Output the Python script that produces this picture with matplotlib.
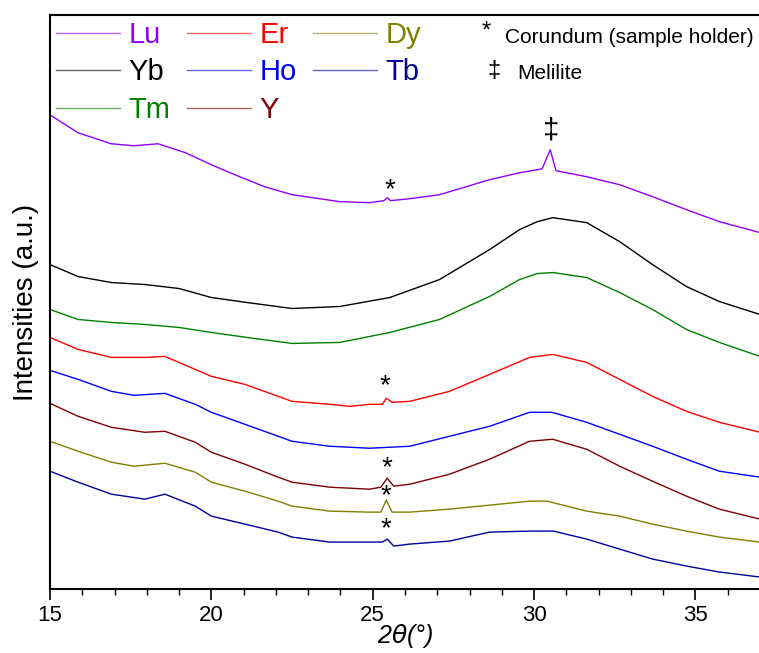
import matplotlib
matplotlib.use("Agg")
import matplotlib.pyplot as plt
from matplotlib.ticker import MultipleLocator

plt.rcParams['font.family'] = ['Liberation Sans', 'DejaVu Sans']

# 2theta positions and intensities (a.u., offset stacked)
x_lu = [15.0, 15.87, 16.9, 17.6, 18.35, 19.2, 20.0, 20.8, 21.65, 22.5, 23.98, 24.9, 25.35, 25.45, 25.55,
        26.15, 27.07, 28.62, 29.55, 30.1, 30.25, 30.5, 30.68, 31.63, 32.65, 33.67, 34.72, 35.74, 37.0]
y_lu = [485, 467, 456, 454, 456, 447, 435, 424, 413, 405, 398, 397, 399, 402, 399,
        401, 405, 420, 427, 430, 431, 450, 429, 423, 415, 403, 390, 378, 367]

x_yb = [15.0, 15.87, 16.9, 17.95, 19.0, 20.0, 21.1, 22.5, 23.98, 25.53, 27.07, 28.62, 29.55, 30.1,
        30.58, 31.63, 32.65, 33.67, 34.72, 35.74, 37.0]
y_yb = [335, 323, 317, 315, 311, 302, 297, 291, 293, 302, 320, 350, 370, 378,
        382, 377, 358, 335, 313, 298, 285]

x_tm = x_yb
y_tm = [290, 280, 277, 275, 272, 267, 262, 256, 257, 267, 280, 303, 320, 326,
        327, 322, 307, 290, 270, 257, 243]

x_er = [15.0, 15.87, 16.9, 17.94, 18.56, 19.5, 20.0, 21.04, 22.07, 22.5, 23.67, 24.3, 24.9, 25.3, 25.42,
        25.6, 26.15, 27.38, 28.62, 29.86, 30.58, 31.63, 32.65, 33.67, 34.72, 35.74, 37.0]
y_er = [262, 250, 242, 242, 243, 230, 223, 215, 203, 198, 195, 193, 195, 195, 201,
        197, 198, 208, 225, 242, 245, 237, 220, 203, 188, 177, 167]

x_ho = [15.0, 15.87, 16.9, 17.6, 18.56, 19.5, 20.0, 21.04, 22.07, 22.5, 23.67, 24.9, 26.15, 27.38,
        28.62, 29.86, 30.55, 31.63, 32.65, 33.67, 34.72, 35.74, 37.0]
y_ho = [229, 220, 208, 204, 206, 195, 187, 175, 163, 158, 153, 151, 153, 163,
        173, 187, 187, 177, 165, 153, 140, 128, 122]

x_y = [15.0, 15.87, 16.9, 17.94, 18.56, 19.5, 20.0, 21.04, 22.07, 22.5, 23.67, 24.9, 25.25, 25.45, 25.65,
       26.15, 27.38, 28.62, 29.86, 30.58, 31.63, 32.65, 33.67, 34.72, 35.74, 37.0]
y_y = [196, 183, 172, 167, 168, 157, 147, 135, 122, 117, 112, 110, 112, 121, 113,
       115, 125, 140, 158, 160, 150, 133, 118, 103, 90, 80]

x_dy = [15.0, 15.87, 16.9, 17.6, 18.56, 19.5, 20.0, 21.04, 22.07, 22.5, 23.67, 24.9, 25.25, 25.42, 25.6,
        26.15, 27.38, 28.62, 29.86, 30.4, 31.63, 32.65, 33.67, 34.72, 35.74, 37.0]
y_dy = [158, 148, 137, 133, 136, 127, 117, 108, 98, 93, 88, 87, 87, 99, 87,
        87, 90, 94, 98, 98, 88, 83, 75, 68, 62, 57]

x_tb = [15.0, 15.87, 16.9, 17.94, 18.56, 19.5, 20.0, 21.04, 22.07, 22.5, 23.67, 24.9, 25.3, 25.45, 25.65,
        26.15, 27.38, 28.62, 29.86, 30.6, 31.63, 32.65, 33.67, 34.72, 35.74, 37.0]
y_tb = [128, 117, 105, 100, 105, 93, 83, 75, 67, 62, 57, 57, 57, 60, 53,
        55, 58, 67, 68, 68, 60, 50, 40, 33, 27, 22]

# legend order is column-wise: Lu Yb Tm | Er Ho Y | Dy Tb
series = [
    ("Lu", x_lu, y_lu, "#8F00FF"),
    ("Yb", x_yb, y_yb, "#000000"),
    ("Tm", x_tm, y_tm, "#008000"),
    ("Er", x_er, y_er, "#FF0000"),
    ("Ho", x_ho, y_ho, "#0000FF"),
    ("Y", x_y, y_y, "#800000"),
    ("Dy", x_dy, y_dy, "#808000"),
    ("Tb", x_tb, y_tb, "#00009C"),
]

# corundum (*) marks and melilite peak
star_x = [25.53, 25.39, 25.45, 25.40, 25.40]
star_y = [409, 213, 131, 103, 70]
melilite_x, melilite_y = 30.53, 469

fig = plt.figure(figsize=(7.59, 6.53), dpi=100)
ax = fig.add_axes([50 / 759, 64 / 653, 710 / 759, 574 / 653])

for name, xs, ys, c in series:
    ax.plot(xs, ys, color=c, lw=1.0, label=name)

for sx, sy in zip(star_x, star_y):
    ax.text(sx, sy, "*", fontsize=20, ha="center", va="center")
ax.text(melilite_x, melilite_y, "\u2021", fontsize=21, ha="center", va="center")

ax.text(0.615, 0.972, "*", transform=ax.transAxes, fontsize=17, ha="center", va="center")
ax.text(0.641, 0.960, "Corundum (sample holder)", transform=ax.transAxes, fontsize=15,
        ha="left", va="center")
ax.text(0.625, 0.902, "\u2021", transform=ax.transAxes, fontsize=17, ha="center", va="center")
ax.text(0.658, 0.898, "Melilite", transform=ax.transAxes, fontsize=15, ha="left", va="center")

ax.set_xlim(15, 37)
ax.set_ylim(10, 585)
ax.xaxis.set_major_locator(MultipleLocator(5))
ax.xaxis.set_minor_locator(MultipleLocator(1))
ax.set_yticks([])
ax.tick_params(axis="x", which="major", length=8, width=1.2, labelsize=16, direction="out")
ax.tick_params(axis="x", which="minor", length=4.5, width=1.0, direction="out")
ax.spines["right"].set_visible(False)
for s in ["left", "top", "bottom"]:
    ax.spines[s].set_linewidth(1.5)

ax.set_xlabel(r"2$\it{\theta}$(°)", fontsize=18, fontstyle="italic", labelpad=-3)
ax.set_ylabel("Intensities (a.u.)", fontsize=20, labelpad=8)

leg = ax.legend(loc="upper left", ncol=3, frameon=False, fontsize=21,
                handlelength=2.2, handletextpad=0.3, columnspacing=0.55,
                labelspacing=0.33, borderaxespad=0.2, borderpad=0.0)
for line, txt, (_, _, _, c) in zip(leg.get_lines(), leg.get_texts(), series):
    line.set_alpha(0.6)
    txt.set_color(c)

fig.savefig("out.png", dpi=100)
